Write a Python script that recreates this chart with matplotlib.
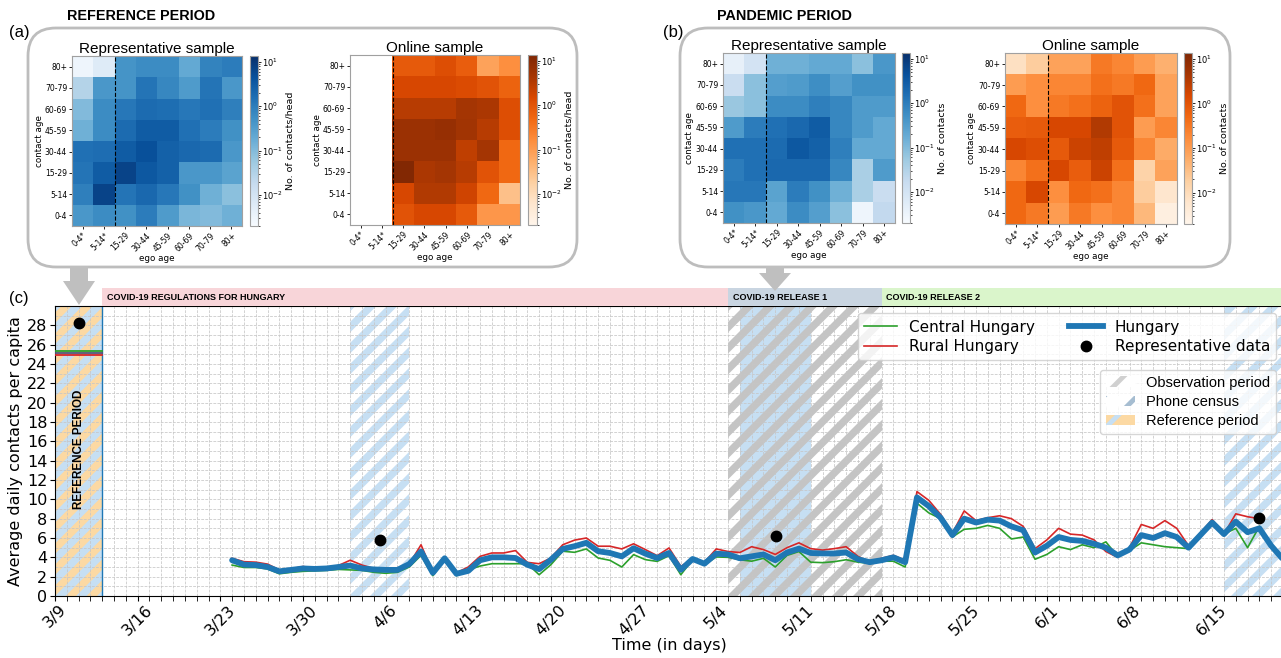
import numpy as np
import matplotlib
matplotlib.use("Agg")
import matplotlib.pyplot as plt
import matplotlib.patches as mpatches
from matplotlib.colors import LogNorm
from matplotlib.lines import Line2D
from matplotlib.collections import PolyCollection

plt.rcParams['hatch.linewidth'] = 3.5

# ---------------- data ----------------
ego_labels = ['0-4*', '5-14*', '15-29', '30-44', '45-59', '60-69', '70-79', '80+']
age_labels = ['0-4', '5-14', '15-29', '30-44', '45-59', '60-69', '70-79', '80+']

# contact matrices, rows from top (80+) to bottom (0-4)
ref_repr = [[0.003, 0.006, 0.45, 0.6, 0.6, 0.2, 0.8, 1.0],
            [0.03, 0.4, 0.45, 1.3, 0.7, 0.35, 1.3, 0.4],
            [0.1, 0.6, 1.2, 1.8, 1.6, 1.2, 1.5, 0.9],
            [0.15, 0.6, 1.8, 3.0, 3.0, 1.5, 1.0, 0.5],
            [1.5, 1.7, 3.0, 4.5, 2.5, 2.0, 1.8, 0.4],
            [1.3, 3.0, 7.0, 3.5, 2.5, 0.4, 0.4, 0.25],
            [0.9, 7.0, 1.3, 2.0, 1.2, 0.5, 0.15, 0.08],
            [0.4, 0.6, 0.5, 1.0, 0.35, 0.12, 0.1, 0.15]]
ref_online = [[np.nan, np.nan, 0.8, 0.8, 1.2, 0.7, 0.08, 0.15],
              [np.nan, np.nan, 1.5, 1.5, 1.5, 1.3, 1.0, 0.6],
              [np.nan, np.nan, 3.0, 3.0, 3.0, 4.5, 4.0, 1.2],
              [np.nan, np.nan, 6.0, 6.0, 7.0, 5.0, 3.0, 1.2],
              [np.nan, np.nan, 6.0, 6.0, 6.0, 2.5, 4.5, 0.5],
              [np.nan, np.nan, 12.0, 4.0, 4.5, 3.0, 1.0, 0.5],
              [np.nan, np.nan, 1.5, 3.5, 3.5, 1.8, 0.5, 0.03],
              [np.nan, np.nan, 1.0, 1.5, 1.5, 0.8, 0.12, 0.12]]
pan_repr = [[0.004, 0.01, 0.15, 0.15, 0.2, 0.2, 0.08, 0.4],
            [0.015, 0.08, 0.3, 0.35, 0.55, 0.3, 0.5, 0.5],
            [0.06, 0.08, 0.6, 0.6, 0.9, 0.7, 0.35, 0.35],
            [0.35, 1.0, 1.5, 2.0, 3.0, 0.7, 0.35, 0.2],
            [1.5, 1.5, 1.8, 3.5, 2.5, 0.9, 0.2, 0.2],
            [1.0, 1.5, 2.0, 2.0, 2.0, 0.7, 0.04, 0.35],
            [1.2, 1.2, 0.25, 1.0, 0.5, 0.15, 0.04, 0.015],
            [0.5, 0.4, 0.2, 0.6, 0.3, 0.08, 0.003, 0.02]]
pan_online = [[0.008, 0.02, 0.08, 0.08, 0.3, 0.2, 0.1, 0.05],
              [0.1, 0.15, 0.2, 0.2, 0.4, 0.3, 0.5, 0.08],
              [0.5, 0.15, 0.3, 0.4, 0.6, 1.0, 0.4, 0.08],
              [0.7, 0.8, 1.5, 1.5, 3.5, 1.0, 0.1, 0.2],
              [1.5, 1.2, 0.8, 2.0, 2.5, 0.8, 0.2, 0.06],
              [0.2, 0.4, 1.5, 0.7, 2.0, 0.4, 0.015, 0.08],
              [0.5, 1.5, 0.15, 0.5, 0.4, 0.2, 0.02, 0.006],
              [0.5, 0.3, 0.1, 0.3, 0.15, 0.2, 0.04, 0.003]]

# time series (day 0 = 3/9)
tick_days = list(range(0, 99, 7))
tick_labels = ['3/9', '3/16', '3/23', '3/30', '4/6', '4/13', '4/20', '4/27',
               '5/4', '5/11', '5/18', '5/25', '6/1', '6/8', '6/15']

days_hu = list(range(15, 105))
hungary = [3.7, 3.25, 3.2, 3.0, 2.55, 2.7, 2.85, 2.8, 2.85, 3.0, 3.15, 2.85, 2.75, 2.7, 2.7, 3.3, 4.6, 2.4, 3.9, 2.3, 2.6, 3.7,
           4.0, 4.0, 3.93, 3.24, 2.78, 3.76, 4.87, 5.15, 5.5, 4.63, 4.45, 4.1, 4.94, 4.38, 3.93, 4.45, 2.71, 3.83, 3.34, 4.38, 4.3, 3.9,
           4.1, 4.3, 3.7, 4.5, 4.9, 4.45, 4.4, 4.4, 4.5, 3.8, 3.5, 3.7, 4.0, 3.5,
           10.2, 9.3, 8.1, 6.3, 8.0, 7.6, 7.9, 7.8, 7.2, 6.8, 4.5, 5.2,
           6.1, 5.8, 5.7, 5.4, 5.0, 4.2, 4.8, 6.3, 6.0, 6.5, 6.1, 5.0, 6.3, 7.6, 6.4, 7.7, 6.6, 7.0, 5.2, 3.8]
days_reg = list(range(15, 103))
rural = [3.9, 3.55, 3.5, 3.3, 2.7, 2.8, 3.05, 2.9, 2.9, 3.15, 3.7, 3.2, 2.85, 2.8, 2.8, 3.3, 5.3, 2.4, 3.9, 2.4, 3.0, 4.1,
         4.45, 4.45, 4.7, 3.48, 3.34, 3.93, 5.3, 5.78, 6.0, 5.15, 5.15, 4.87, 5.4, 4.8, 4.17, 4.97, 3.06, 3.83, 3.48, 4.87, 4.6, 4.5,
         5.1, 4.8, 4.3, 5.0, 5.5, 4.9, 4.75, 4.9, 5.1, 4.1, 3.5, 3.9, 4.2, 3.7,
         10.8, 9.9, 8.45, 6.5, 8.8, 7.8, 8.1, 8.3, 8.0, 7.2, 4.9, 5.8,
         7.0, 6.4, 6.3, 5.8, 4.6, 4.0, 5.0, 7.4, 7.0, 7.8, 7.0, 5.2, 6.5, 7.9, 6.4, 8.5, 8.2, 8.0]
central = [3.2, 2.95, 2.95, 2.8, 2.3, 2.45, 2.55, 2.6, 2.65, 2.75, 2.7, 2.65, 2.45, 2.35, 2.45, 3.0, 4.2, 2.1, 3.75, 2.1, 2.7, 3.1,
           3.34, 3.34, 3.34, 3.34, 2.2, 3.24, 4.63, 4.52, 4.87, 3.93, 3.69, 3.0, 4.28, 3.76, 3.58, 4.17, 2.2, 3.76, 3.24, 4.04, 4.0, 3.75,
           3.6, 3.9, 3.0, 4.2, 4.6, 3.5, 3.45, 3.55, 3.75, 3.5, 3.4, 3.6, 3.6, 3.0,
           9.6, 8.6, 8.0, 6.1, 6.9, 7.0, 7.3, 7.0, 5.9, 6.1, 3.8, 4.3,
           5.1, 4.8, 5.3, 5.0, 5.6, 4.1, 4.7, 5.5, 5.3, 5.1, 5.0, 4.9, 6.2, 7.5, 6.4, 7.0, 5.0, 7.2]

ref_span = (0, 4)
ref_central, ref_hungary, ref_rural = 25.3, 25.1, 24.95
rep_days = [2.05, 27.5, 61.05, 102.0]
rep_vals = [28.2, 5.8, 6.25, 8.1]

phone_census = [(25, 30), (58, 64), (99, 104)]
observation = (57, 70)
bands = [(4, 57, '#f8d5d9', 'COVID-19 REGULATIONS FOR HUNGARY'),
         (57, 70, '#c9d5e1', 'COVID-19 RELEASE 1'),
         (70, 104, '#daf5cb', 'COVID-19 RELEASE 2')]

# ---------------- figure ----------------
W, H = 1281, 658
fig = plt.figure(figsize=(W / 100, H / 100), dpi=100)


def px_axes(x0, y0, x1, y1):
    return fig.add_axes([x0 / W, (H - y1) / H, (x1 - x0) / W, (y1 - y0) / H])


def ftext(x, y, s, **kw):
    fig.text(x / W, 1 - y / H, s, **kw)


# rounded panel boxes
for x0, x1 in [(28, 577), (680, 1230)]:
    box = mpatches.FancyBboxPatch((x0 / 100, (H - 267) / 100), (x1 - x0) / 100, 2.39,
                                  boxstyle='round,pad=0,rounding_size=0.28',
                                  transform=fig.dpi_scale_trans, fc='white',
                                  ec='#bdbdbd', lw=2, zorder=-1)
    fig.add_artist(box)

# gray arrows from the boxes down to the timeline
for cx, ytop, yneck, ytip in [(79, 266, 281, 305), (775, 266, 273, 291)]:
    pts = [(cx - 9, ytop), (cx + 9, ytop), (cx + 9, yneck), (cx + 16, yneck),
           (cx, ytip), (cx - 16, yneck), (cx - 9, yneck)]
    arr = mpatches.Polygon([(x / 100, (H - y) / 100) for x, y in pts], closed=True,
                           transform=fig.dpi_scale_trans, fc='#bfbfbf', ec='none', zorder=1)
    fig.add_artist(arr)

ftext(67, 16, 'REFERENCE PERIOD', fontsize=10.4, weight='bold', family='Liberation Sans', va='center')
ftext(717, 16, 'PANDEMIC PERIOD', fontsize=10.4, weight='bold', family='Liberation Sans', va='center')
ftext(9, 32, '(a)', fontsize=12, family='Liberation Sans', va='center')
ftext(663, 32, '(b)', fontsize=12, family='Liberation Sans', va='center')
ftext(9, 298, '(c)', fontsize=12, family='Liberation Sans', va='center')


def heatmap(box, cbox, mat, cmap, title, cblabel):
    ax = px_axes(*box)
    m = np.array(mat, dtype=float)[::-1]
    im = ax.imshow(m, origin='lower', cmap=cmap, norm=LogNorm(2e-3, 13.5), aspect='auto')
    ax.axvline(1.5, color='k', ls='--', lw=0.8)
    ax.set_xticks(range(8))
    ax.set_xticklabels(ego_labels, rotation=45, ha='right', rotation_mode='anchor', fontsize=5.5)
    ax.set_yticks(range(8))
    ax.set_yticklabels(age_labels, fontsize=5.5)
    ax.tick_params(length=2, pad=1.5, width=0.6)
    ax.set_xlabel('ego age', fontsize=6.3, labelpad=1)
    ax.set_ylabel('contact age', fontsize=6.3, labelpad=1)
    ax.set_title(title, fontsize=11, family='Liberation Sans', pad=2)
    cax = px_axes(*cbox)
    cb = fig.colorbar(im, cax=cax)
    cb.ax.tick_params(labelsize=6, length=2, pad=1, width=0.6)
    cb.ax.tick_params(which='minor', length=1.2, width=0.5)
    cb.set_label(cblabel, fontsize=6.8, labelpad=2)
    cb.outline.set_edgecolor('#a0a0a0')
    for s in ax.spines.values():
        s.set_color('#a0a0a0')


heatmap((72, 56, 242, 226), (250, 56, 258, 226), ref_repr, 'Blues',
        'Representative sample', 'No. of contacts/head')
heatmap((350, 55, 520, 225), (528, 55, 537, 225), ref_online, 'Oranges',
        'Online sample', 'No. of contacts/head')
heatmap((723, 53, 895, 223), (902, 53, 910, 223), pan_repr, 'Blues',
        'Representative sample', 'No. of contacts')
heatmap((1005, 53, 1177, 224), (1184, 53, 1192, 224), pan_online, 'Oranges',
        'Online sample', 'No. of contacts')

# ---------------- timeline ----------------
ax = px_axes(55, 306, 1283, 596)
ax.set_xlim(0, 104)
ax.set_ylim(0, 30)


def stripes(ax, x0, x1, color, period_px=21, frac=0.5):
    pos = ax.get_position()
    xmin, xmax = ax.get_xlim()
    ymin, ymax = ax.get_ylim()
    ppd = pos.width * W / (xmax - xmin)
    ppy = pos.height * H / (ymax - ymin)
    run = (ymax - ymin) * ppy / ppd
    per = period_px / ppd
    w = per * frac
    a = np.floor((x0 - run - per) / per) * per
    polys = []
    while a < x1:
        polys.append([(a, ymin), (a + w, ymin), (a + w + run, ymax), (a + run, ymax)])
        a += per
    pc = PolyCollection(polys, facecolors=color, edgecolors='none', zorder=0.6)
    ax.add_collection(pc, autolim=False)
    pc.set_clip_path(mpatches.Rectangle((x0, ymin), x1 - x0, ymax - ymin, transform=ax.transData))


light_blue = '#c6dff3'
ax.axvspan(*ref_span, color='#fcd9a3', lw=0, zorder=0.5)
stripes(ax, ref_span[0], ref_span[1], light_blue)
for s, e in phone_census:
    ax.axvspan(s, e, color='white', lw=0, zorder=0.4)
    if s >= observation[0] and e <= observation[1]:
        ax.axvspan(s, e, color=light_blue, lw=0, zorder=0.5)
    else:
        stripes(ax, s, e, light_blue)
stripes(ax, observation[0], observation[1], '#c4c4c4')
ax.axvline(ref_span[1], color='#1f77b4', lw=1.0, zorder=2)

ax.plot(ref_span, [ref_central] * 2, color='#2ca02c', lw=1.3, zorder=3)
ax.plot(ref_span, [ref_hungary] * 2, color='#555577', lw=1.3, zorder=3)
ax.plot(ref_span, [ref_rural] * 2, color='#d62728', lw=1.3, zorder=3)

ax.plot(days_reg, central, color='#2ca02c', lw=1.2, zorder=3)
ax.plot(days_reg, rural, color='#d62728', lw=1.2, zorder=3)
ax.plot(days_hu, hungary, color='#1f77b4', lw=4.2, zorder=4, solid_capstyle='round')
ax.plot(rep_days, rep_vals, 'o', color='k', ms=7.5, zorder=5)

ax.set_xticks(tick_days)
ax.set_xticklabels(tick_labels, rotation=45, fontsize=11.5)
ax.set_xticks(np.arange(0, 105, 1), minor=True)
ax.set_yticks(np.arange(0, 29, 2))
ax.set_yticks(np.arange(0, 31, 1), minor=True)
ax.tick_params(axis='y', labelsize=11.5, pad=2)
ax.tick_params(axis='y', which='minor', length=0)
ax.tick_params(axis='x', which='both', length=3.5, pad=1)
ax.grid(True, which='both', color='#c6c6c6', ls='--', lw=0.55)
ax.set_ylabel('Average daily contacts per capita', fontsize=11.5, labelpad=3)
ax.set_xlabel('Time (in days)', fontsize=11.5, labelpad=0)

ax.text(2.05, 15.2, 'REFERENCE PERIOD', rotation=90, ha='center', va='center',
        fontsize=8.4, weight='bold', family='Liberation Sans', zorder=6)

h1 = [Line2D([], [], color='#2ca02c', lw=1.2),
      Line2D([], [], color='#d62728', lw=1.2),
      Line2D([], [], color='#1f77b4', lw=4.2),
      Line2D([], [], marker='o', ls='', color='k', ms=7.5)]
l1 = ax.legend(h1, ['Central Hungary', 'Rural Hungary', 'Hungary', 'Representative data'],
               ncol=2, loc='upper right', bbox_to_anchor=(0.997, 0.985), fontsize=11,
               handlelength=2.2, borderaxespad=0.2, labelspacing=0.3, columnspacing=2.2)
ax.add_artist(l1)
h2 = [mpatches.Patch(facecolor='white', edgecolor='#d0d0d0', hatch='/', lw=0),
      mpatches.Patch(facecolor='white', edgecolor='#a6bdd1', hatch='/', lw=0),
      mpatches.Patch(facecolor='#fcd9a3', edgecolor='#c6dff3', hatch='/', lw=0)]
ax.legend(h2, ['Observation period', 'Phone census', 'Reference period'],
          loc='upper right', bbox_to_anchor=(0.997, 0.79),
          prop={'family': 'Liberation Sans', 'size': 10.5}, borderaxespad=0.2,
          labelspacing=0.35)

# regulation band above the timeline
bax = px_axes(55, 288, 1283, 306)
bax.set_xlim(0, 104)
bax.set_ylim(0, 1)
bax.axis('off')
for s, e, c, t in bands:
    bax.axvspan(s, e, color=c, lw=0)
    bax.text(s + 0.4, 0.5, t, fontsize=6.5, weight='bold', family='Liberation Sans', va='center')

fig.savefig('out.png', dpi=100)
